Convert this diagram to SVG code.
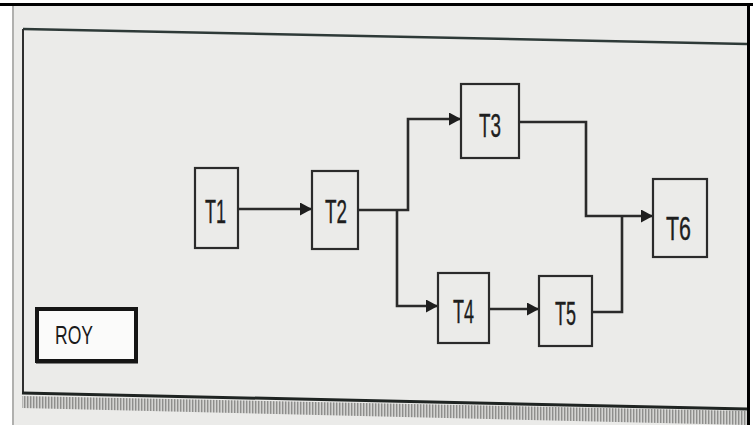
<svg xmlns="http://www.w3.org/2000/svg" width="753" height="425" viewBox="0 0 753 425">
<style>
.box{fill:none;stroke:#2b2b2b;stroke-width:2.2}
.lbl{font-family:"Liberation Sans",Arial,sans-serif;font-size:34px;fill:#1e1e1e;stroke:#1e1e1e;stroke-width:0.4}
.wire{fill:none;stroke:#2a2a2a;stroke-width:2.6}
</style>
<defs>
<marker id="ah" markerWidth="13" markerHeight="13" refX="12" refY="6.5" orient="auto" markerUnits="userSpaceOnUse">
<path d="M0,0 L12,6.5 L0,13 Z" fill="#1e1e1e"/>
</marker>
<pattern id="hatch" width="3" height="4" patternUnits="userSpaceOnUse">
<rect width="3" height="4" fill="#d4d4d2"/>
<rect width="1.4" height="4" fill="#8e8e8c"/>
</pattern>
</defs>
<rect width="753" height="425" fill="#ffffff"/>
<rect x="13" y="6" width="735" height="419" fill="#ebebe9"/>
<line x1="13" y1="6" x2="13" y2="425" stroke="#b0b0ae" stroke-width="2"/>
<rect x="0" y="3" width="753" height="3" fill="#000"/>
<rect x="747" y="3" width="3" height="422" fill="#000"/>
<g id="frame">
<polygon points="22,396 747,411 747,425 22,408" fill="url(#hatch)"/>
<line x1="23" y1="29" x2="747" y2="44" stroke="#2e3a38" stroke-width="2.5"/>
<line x1="23" y1="29" x2="23" y2="394" stroke="#2e2e2e" stroke-width="2"/>
<line x1="22" y1="393" x2="747" y2="409" stroke="#1f2422" stroke-width="3"/>
</g>
<g id="connectors">
<path class="wire" d="M238,209 H312" marker-end="url(#ah)"/>
<path class="wire" d="M358,210 H408 V119 H461" marker-end="url(#ah)"/>
<path class="wire" d="M397,210 V306 H438" marker-end="url(#ah)"/>
<path class="wire" d="M519,122 H586 V216 H653" marker-end="url(#ah)"/>
<path class="wire" d="M489,309 H539" marker-end="url(#ah)"/>
<path class="wire" d="M592,312 H622 V216"/>
</g>
<g id="T1"><rect class="box" x="195" y="168" width="43" height="80"/><text class="lbl" x="205" y="223" textLength="21" lengthAdjust="spacingAndGlyphs">T1</text></g>
<g id="T2"><rect class="box" x="312" y="171" width="46" height="78"/><text class="lbl" x="325" y="223" textLength="22" lengthAdjust="spacingAndGlyphs">T2</text></g>
<g id="T3"><rect class="box" x="461" y="84" width="58" height="74"/><text class="lbl" x="479" y="137" textLength="22" lengthAdjust="spacingAndGlyphs">T3</text></g>
<g id="T4"><rect class="box" x="438" y="273" width="51" height="70"/><text class="lbl" x="453" y="323" textLength="21" lengthAdjust="spacingAndGlyphs">T4</text></g>
<g id="T5"><rect class="box" x="539" y="276" width="53" height="70"/><text class="lbl" x="555" y="325" textLength="21" lengthAdjust="spacingAndGlyphs">T5</text></g>
<g id="T6"><rect class="box" x="653" y="179" width="54" height="78"/><text class="lbl" x="666" y="240" textLength="25" lengthAdjust="spacingAndGlyphs">T6</text></g>
<g id="ROY">
<rect x="37" y="309" width="99" height="52" fill="#fbfbfa" stroke="#151515" stroke-width="4"/>
<line x1="36" y1="362" x2="138" y2="362" stroke="#151515" stroke-width="3"/>
<text x="55" y="344" font-family="'Liberation Sans',Arial,sans-serif" font-size="25" fill="#1a1a1a" textLength="38" lengthAdjust="spacingAndGlyphs">ROY</text>
</g>
</svg>
